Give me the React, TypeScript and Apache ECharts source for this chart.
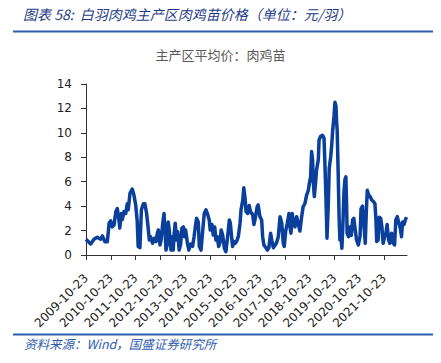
import React, { useEffect, useRef } from "react";
import * as echarts from "echarts";

// x: years elapsed since 2009-10-23, y: price (元/羽)
const years: number[] = [
  0.0, 0.19, 0.32, 0.45, 0.59, 0.66, 0.76, 0.86, 0.93, 0.99, 1.06, 1.13, 1.2, 1.26, 1.33, 1.36, 1.42, 1.46,
  1.53, 1.6, 1.66, 1.7, 1.77, 1.86, 1.93, 2.0, 2.06, 2.1, 2.17, 2.23, 2.31, 2.37, 2.44, 2.51, 2.55, 2.6,
  2.68, 2.75, 2.82, 2.87, 2.91, 2.98, 3.02, 3.09, 3.14, 3.18, 3.22, 3.27, 3.31, 3.35, 3.42, 3.46, 3.51,
  3.55, 3.59, 3.65, 3.69, 3.75, 3.81, 3.86, 3.92, 3.96, 4.01, 4.08, 4.14, 4.21, 4.29, 4.35, 4.4, 4.45,
  4.52, 4.56, 4.63, 4.7, 4.76, 4.83, 4.9, 4.96, 5.0, 5.07, 5.12, 5.18, 5.23, 5.28, 5.34, 5.39, 5.44, 5.5,
  5.57, 5.63, 5.7, 5.77, 5.81, 5.86, 5.9, 5.96, 6.01, 6.06, 6.13, 6.2, 6.24, 6.31, 6.35, 6.41, 6.44, 6.51,
  6.57, 6.62, 6.71, 6.76, 6.8, 6.89, 6.93, 7.0, 7.07, 7.11, 7.16, 7.24, 7.3, 7.36, 7.43, 7.48, 7.54, 7.61,
  7.67, 7.74, 7.81, 7.88, 7.94, 7.98, 8.04, 8.1, 8.17, 8.21, 8.25, 8.3, 8.34, 8.41, 8.48, 8.54, 8.61, 8.68,
  8.74, 8.81, 8.88, 8.95, 8.99, 9.04, 9.08, 9.12, 9.15, 9.19, 9.24, 9.28, 9.35, 9.38, 9.44, 9.52, 9.58,
  9.62, 9.66, 9.7, 9.75, 9.79, 9.85, 9.89, 9.93, 9.98, 10.02, 10.06, 10.09, 10.11, 10.15, 10.19, 10.22,
  10.26, 10.3, 10.34, 10.38, 10.42, 10.46, 10.49, 10.51, 10.57, 10.62, 10.68, 10.73, 10.78, 10.84, 10.89,
  10.96, 11.03, 11.07, 11.13, 11.19, 11.24, 11.28, 11.32, 11.38, 11.43, 11.5, 11.56, 11.63, 11.67, 11.7,
  11.76, 11.8, 11.86, 11.91, 11.96, 12.02, 12.07, 12.12, 12.18, 12.23, 12.3, 12.37, 12.42, 12.47, 12.53,
  12.58, 12.64, 12.7, 12.74, 12.8, 12.85, 12.9,
];

const prices: number[] = [
  1.29, 0.9, 1.29, 1.45, 1.29, 1.56, 1.09, 1.09, 2.6, 2.8, 2.3, 2.46, 3.55, 3.8, 2.8, 2.2, 3.4, 2.9,
  3.55, 3.4, 4.2, 3.7, 5.05, 5.4, 4.9, 4.1, 2.8, 0.7, 0.6, 3.7, 4.2, 4.2, 3.4, 2.05, 1.23, 1.5,
  0.96, 1.36, 1.1, 1.77, 2.05, 0.82, 1.2, 2.6, 3.4, 2.05, 0.4, 0.9, 2.7, 2.05, 0.4, 1.5, 0.4,
  1.77, 2.6, 1.23, 1.9, 0.4, 0.9, 2.2, 2.3, 1.5, 2.05, 1.0, 0.4, 0.9, 0.7, 1.5, 2.3, 3.0,
  2.7, 0.7, 0.4, 2.05, 3.4, 3.7, 3.3, 2.87, 2.05, 2.5, 1.64, 2.3, 1.23, 1.5, 0.7, 1.0, 2.05, 1.64,
  0.55, 0.27, 1.5, 2.87, 2.6, 1.5, 0.7, 1.1, 0.96, 1.1, 1.5, 2.6, 3.7, 4.5, 5.5, 4.5, 3.55, 3.4,
  4.05, 3.55, 3.3, 2.5, 2.87, 3.96, 4.1, 3.14, 2.87, 1.5, 0.82, 0.6, 0.4, 0.6, 1.78, 1.2, 0.6, 0.8,
  1.0, 1.5, 3.14, 2.6, 0.96, 0.7, 2.0, 2.6, 3.4, 2.3, 1.78, 3.4, 2.87, 2.3, 3.14, 2.6, 1.96, 3.14,
  3.96, 4.2, 4.9, 5.3, 5.87, 6.4, 8.47, 7.8, 5.9, 4.78, 5.9, 6.97, 7.8, 9.4, 9.7, 9.8, 9.56,
  7.24, 4.5, 1.37, 4.0, 7.1, 8.05, 9.0, 10.25, 11.3, 12.5, 12.2, 10.8, 10.2, 6.7, 2.87, 1.23,
  1.5, 0.55, 2.5, 5.05, 6.15, 6.4, 4.0, 1.78, 1.5, 2.3, 1.6, 2.87, 3.0, 2.0, 1.23,
  0.82, 1.5, 3.8, 4.0, 2.3, 0.96, 3.4, 5.3, 4.9, 4.8, 4.5, 4.4, 4.2, 2.87, 1.1,
  1.23, 3.1, 3.0, 2.3, 0.96, 1.5, 1.78, 2.5, 1.23, 0.96, 1.78, 0.96, 0.82, 2.87, 3.14,
  2.7, 2.3, 1.5, 2.7, 2.5, 2.87, 3.1,
];

const yearTicks: number[] = [0, 1, 2, 3, 4, 5, 6, 7, 8, 9, 10, 11, 12];
const startYear = 2009;
const tickSuffix = "-10-23";

const headerText = "图表 58:  白羽肉鸡主产区肉鸡苗价格（单位：元/羽）";
const sourceText = "资料来源：Wind，国盛证券研究所";
const seriesName = "主产区平均价：肉鸡苗";

export default function App() {
  const ref = useRef<HTMLDivElement>(null);
  useEffect(() => {
    if (!ref.current) return;
    const chart = echarts.init(ref.current, undefined, { renderer: "svg" });
    const data = years.map((t, i) => [t, prices[i]]);
    chart.setOption({
      animation: false,
      backgroundColor: "#ffffff",
      textStyle: { fontFamily: "DejaVu Sans" },
      grid: { left: 86, right: 34, top: 84, bottom: 108, containLabel: false },
      graphic: [
        {
          type: "text",
          left: 23,
          top: 7,
          style: {
            text: headerText,
            fill: "#1F3C88",
            fontSize: 14,
            fontStyle: "italic",
            fontFamily: "Noto Sans CJK SC",
          },
        },
        {
          type: "rect",
          shape: { x: 13, y: 30.5, width: 425, height: 2 },
          style: { fill: "#2F5DAE" },
        },
        {
          type: "text",
          left: "center",
          top: 48,
          style: {
            text: seriesName,
            fill: "#595959",
            fontSize: 13,
            fontFamily: "Noto Sans CJK SC",
          },
        },
        {
          type: "rect",
          shape: { x: 13, y: 333.5, width: 425, height: 2 },
          style: { fill: "#2F5DAE" },
        },
        {
          type: "text",
          left: 24,
          top: 337,
          style: {
            text: sourceText,
            fill: "#2F5DAE",
            fontSize: 12.5,
            fontStyle: "italic",
            fontFamily: "Noto Sans CJK SC",
          },
        },
      ],
      xAxis: {
        type: "value",
        min: 0,
        max: 12.92,
        interval: 1,
        splitLine: { show: false },
        axisLine: { show: true, lineStyle: { color: "#333333", width: 1 } },
        axisTick: {
          show: true,
          length: 5,
          inside: false,
          customValues: yearTicks,
          lineStyle: { color: "#333333" },
        },
        axisLabel: {
          customValues: yearTicks,
          rotate: 45,
          margin: 21,
          color: "#222222",
          fontSize: 12,
          fontFamily: "DejaVu Sans",
          formatter: (v: number) => `${startYear + Math.round(v)}${tickSuffix}`,
        },
      },
      yAxis: {
        type: "value",
        min: 0,
        max: 14,
        interval: 2,
        splitLine: { show: false },
        axisLine: { show: true, lineStyle: { color: "#333333", width: 1 } },
        axisTick: { show: true, length: 5, inside: false, lineStyle: { color: "#333333" } },
        axisLabel: { margin: 14, color: "#222222", fontSize: 12, fontFamily: "DejaVu Sans" },
      },
      series: [
        {
          name: seriesName,
          type: "line",
          data,
          showSymbol: false,
          symbol: "none",
          smooth: false,
          lineStyle: { color: "#0A3F9C", width: 3.5, join: "round" },
        },
      ],
    });
    return () => chart.dispose();
  }, []);
  return <div ref={ref} style={{ width: 441, height: 363, margin: -8 }} />;
}
